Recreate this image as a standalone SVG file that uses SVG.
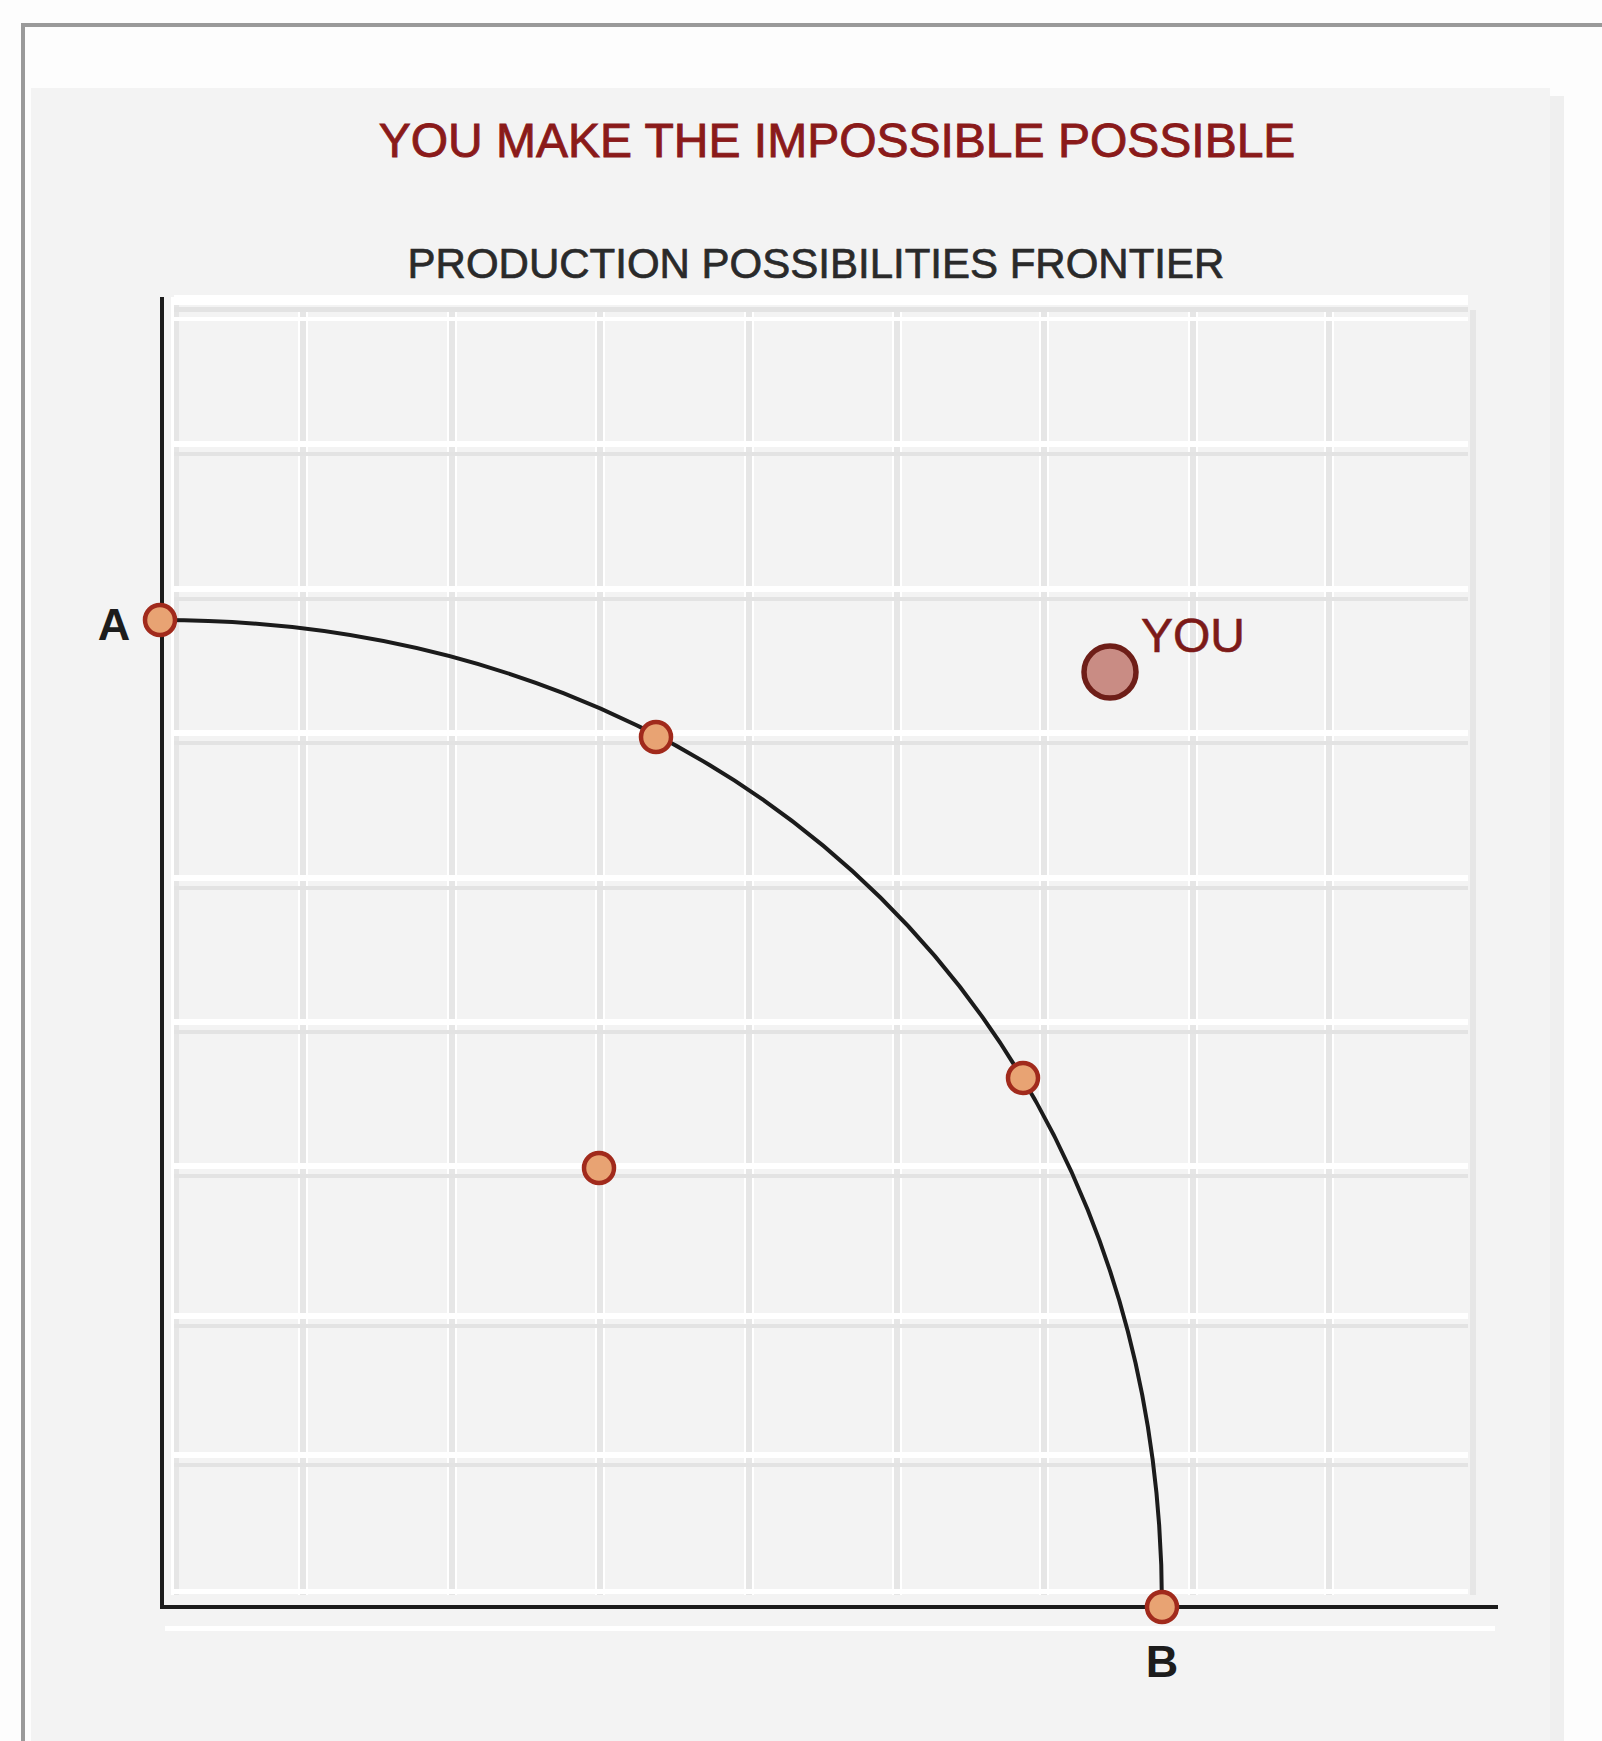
<svg xmlns="http://www.w3.org/2000/svg" width="1602" height="1741" viewBox="0 0 1602 1741">
  <defs>
    <style>
      .title { font-family: "Liberation Sans", Arial, sans-serif; font-size: 48px; fill: #8a1a1a; stroke: #8a1a1a; stroke-width: 0.9px; }
      .subtitle { font-family: "Liberation Sans", Arial, sans-serif; font-size: 42px; fill: #2a2a2a; stroke: #2a2a2a; stroke-width: 0.7px; }
      .axislabel { font-family: "Liberation Sans", Arial, sans-serif; font-size: 45px; font-weight: bold; fill: #1c1c1c; }
      .youlabel { font-family: "Liberation Sans", Arial, sans-serif; font-size: 48px; fill: #7c1a18; stroke: #7c1a18; stroke-width: 0.6px; }
      .dot { fill: #e8a373; stroke: #a12a1c; stroke-width: 4.5; }
      .you { fill: #c98c84; stroke: #6e1e18; stroke-width: 5.5; }
      .axis { fill: none; stroke: #1b1b1b; stroke-width: 4; stroke-linecap: square; }
      .ppf { fill: none; stroke: #1b1b1b; stroke-width: 4; }
      .hw { fill: #ffffff; }
      .hg { fill: #e3e3e3; }
      .vg { fill: #e6e6e6; }
    </style>
  </defs>

  <!-- page background and frame -->
  <rect x="0" y="0" width="1602" height="1741" fill="#fdfdfd"/>
  <rect x="31" y="88" width="1519" height="1653" fill="#f3f3f3"/>
  <rect x="1550" y="96" width="14" height="1645" fill="#efefef"/>
  <rect x="22" y="23" width="1580" height="4" fill="#9a9a9a"/>
  <rect x="21" y="23" width="4" height="1718" fill="#9a9a9a"/>

  <!-- titles -->
  <text class="title" x="837" y="157" text-anchor="middle">YOU MAKE THE IMPOSSIBLE POSSIBLE</text>
  <text class="subtitle" x="816" y="278" text-anchor="middle">PRODUCTION POSSIBILITIES FRONTIER</text>

  <!-- grid -->
  <g id="grid">
    <g>
      <rect x="171" y="297" width="3" height="1298" class="hw"/>
      <rect x="174" y="297" width="5" height="1298" class="vg"/>
      <rect x="298" y="310" width="2" height="1285" class="hw"/>
      <rect x="300" y="310" width="6" height="1285" class="vg"/>
      <rect x="306" y="310" width="2" height="1285" class="hw"/>
      <rect x="447" y="310" width="2" height="1285" class="hw"/>
      <rect x="449" y="310" width="6" height="1285" class="vg"/>
      <rect x="455" y="310" width="2" height="1285" class="hw"/>
      <rect x="595" y="310" width="2" height="1285" class="hw"/>
      <rect x="597" y="310" width="6" height="1285" class="vg"/>
      <rect x="603" y="310" width="2" height="1285" class="hw"/>
      <rect x="744" y="310" width="2" height="1285" class="hw"/>
      <rect x="746" y="310" width="6" height="1285" class="vg"/>
      <rect x="752" y="310" width="2" height="1285" class="hw"/>
      <rect x="892" y="310" width="2" height="1285" class="hw"/>
      <rect x="894" y="310" width="6" height="1285" class="vg"/>
      <rect x="900" y="310" width="2" height="1285" class="hw"/>
      <rect x="1039" y="310" width="2" height="1285" class="hw"/>
      <rect x="1041" y="310" width="6" height="1285" class="vg"/>
      <rect x="1047" y="310" width="2" height="1285" class="hw"/>
      <rect x="1188" y="310" width="2" height="1285" class="hw"/>
      <rect x="1190" y="310" width="6" height="1285" class="vg"/>
      <rect x="1196" y="310" width="2" height="1285" class="hw"/>
      <rect x="1324" y="310" width="2" height="1285" class="hw"/>
      <rect x="1326" y="310" width="6" height="1285" class="vg"/>
      <rect x="1332" y="310" width="2" height="1285" class="hw"/>
      <rect x="1470" y="310" width="6" height="1285" class="vg"/>
    </g>
    <g>
      <rect x="174" y="295" width="1294" height="10" class="hw"/>
      <rect x="174" y="307" width="1294" height="5" class="hg"/>
      <rect x="174" y="317" width="1294" height="4" class="hw"/>
      <rect x="174" y="441" width="1294" height="6" class="hw"/>
      <rect x="174" y="452" width="1294" height="4" class="hg"/>
      <rect x="174" y="586" width="1294" height="6" class="hw"/>
      <rect x="174" y="597" width="1294" height="4" class="hg"/>
      <rect x="174" y="730" width="1294" height="6" class="hw"/>
      <rect x="174" y="741" width="1294" height="4" class="hg"/>
      <rect x="174" y="875" width="1294" height="6" class="hw"/>
      <rect x="174" y="886" width="1294" height="4" class="hg"/>
      <rect x="174" y="1019" width="1294" height="6" class="hw"/>
      <rect x="174" y="1030" width="1294" height="4" class="hg"/>
      <rect x="174" y="1163" width="1294" height="6" class="hw"/>
      <rect x="174" y="1174" width="1294" height="4" class="hg"/>
      <rect x="174" y="1313" width="1294" height="6" class="hw"/>
      <rect x="174" y="1324" width="1294" height="4" class="hg"/>
      <rect x="174" y="1452" width="1294" height="6" class="hw"/>
      <rect x="174" y="1463" width="1294" height="4" class="hg"/>
      <rect x="174" y="1589" width="1294" height="5" class="hw"/>
      <rect x="165" y="1626" width="1330" height="5" class="hw"/>
    </g>
  </g>

  <!-- connectors: axes and frontier curve -->
  <g id="connectors">
    <path class="axis" d="M162,299 L162,1607 L1496,1607"/>
    <path id="frontier" class="ppf" d="M160,620 C745,620 1162,1031 1162,1607"/>
  </g>

  <!-- nodes -->
  <g id="point-A">
    <circle class="dot" cx="160" cy="620" r="15"/>
    <text class="axislabel" x="114" y="640" text-anchor="middle">A</text>
  </g>
  <g id="point-B">
    <circle class="dot" cx="1162" cy="1607" r="15"/>
    <text class="axislabel" x="1162" y="1677" text-anchor="middle">B</text>
  </g>
  <g id="point-1">
    <circle class="dot" cx="656" cy="737" r="15"/>
  </g>
  <g id="point-2">
    <circle class="dot" cx="1023" cy="1078" r="15"/>
  </g>
  <g id="point-inside">
    <circle class="dot" cx="599" cy="1168" r="15"/>
  </g>
  <g id="point-you">
    <circle class="you" cx="1110" cy="672" r="26"/>
    <text class="youlabel" x="1141" y="652">YOU</text>
  </g>
</svg>
